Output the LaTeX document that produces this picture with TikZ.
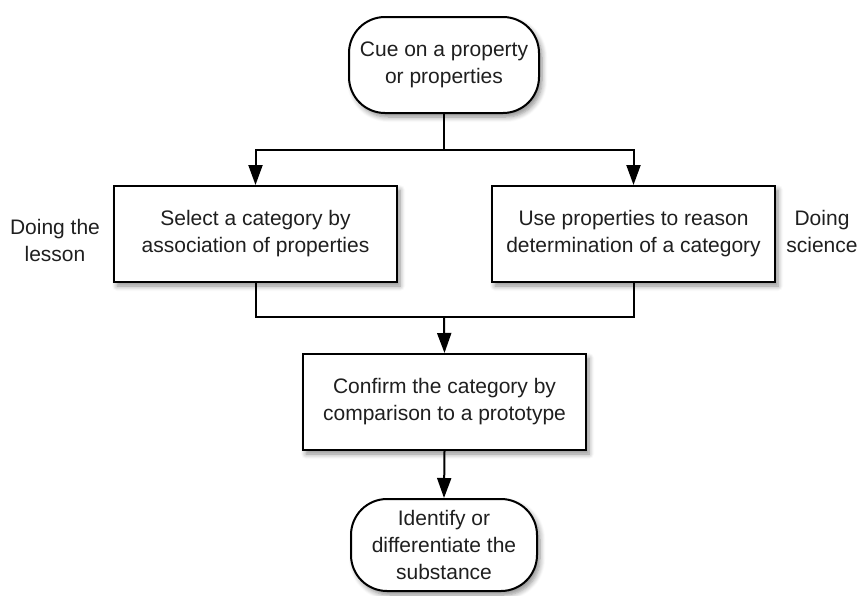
\documentclass[tikz,border=0pt]{standalone}
\usepackage{fontspec}
\setmainfont{Liberation Sans}
\usetikzlibrary{arrows.meta,shadows.blur}

\tikzset{
  base/.style={draw=black, line width=2pt, fill=white, align=center,
    text=black!88, font=\fontsize{21}{27}\selectfont, inner sep=0pt,
    blur shadow={shadow xshift=3pt, shadow yshift=-4pt, shadow blur steps=6,
      shadow blur radius=5pt, shadow opacity=45}},
  stepbox/.style={base, minimum width=283pt, minimum height=96pt},
  terminal/.style={base, rounded corners=36pt},
  note/.style={align=center, text=black!88, font=\fontsize{21}{27}\selectfont},
  link/.style={draw=black, line width=2pt},
  arr/.style={link, -{Triangle[width=14pt,length=20pt]}}
}

\begin{document}
\begin{tikzpicture}[x=1pt, y=-1pt]
  \useasboundingbox (0,0) rectangle (859,595);

  % start and end terminals
  \node[terminal, minimum width=190pt, minimum height=96pt] (cue) at (444,65)
    {Cue on a property\\or properties};
  \node[terminal, minimum width=186pt, minimum height=92pt] (identify) at (444,545)
    {Identify or\\differentiate the\\substance};

  % the two parallel routes
  \node[stepbox] (select) at (255.5,234)
    {Select a category by\\association of properties};
  \node[stepbox] (reason) at (633.5,234)
    {Use properties to reason\\determination of a category};

  % shared confirmation step
  \node[stepbox] (confirm) at (444.5,402)
    {Confirm the category by\\comparison to a prototype};

  % side labels
  \node[note] (lesson) at (55,240) {Doing the\\lesson};
  \node[note] (science) at (822,231) {Doing\\science};

  % branch from the cue into both routes
  \coordinate (split) at (444,150);
  \draw[link] (cue.south) -- (split);
  \draw[arr] (split) -| (select.north);
  \draw[arr] (split) -| (reason.north);

  % both routes merge into the confirmation step
  \coordinate (join) at (444,317);
  \draw[link] (select.south) |- (join) -| (reason.south);
  \draw[arr] (join) -- (confirm.north);

  % confirmation leads to the outcome
  \draw[arr] (confirm.south) -- (identify.north);
\end{tikzpicture}
\end{document}
